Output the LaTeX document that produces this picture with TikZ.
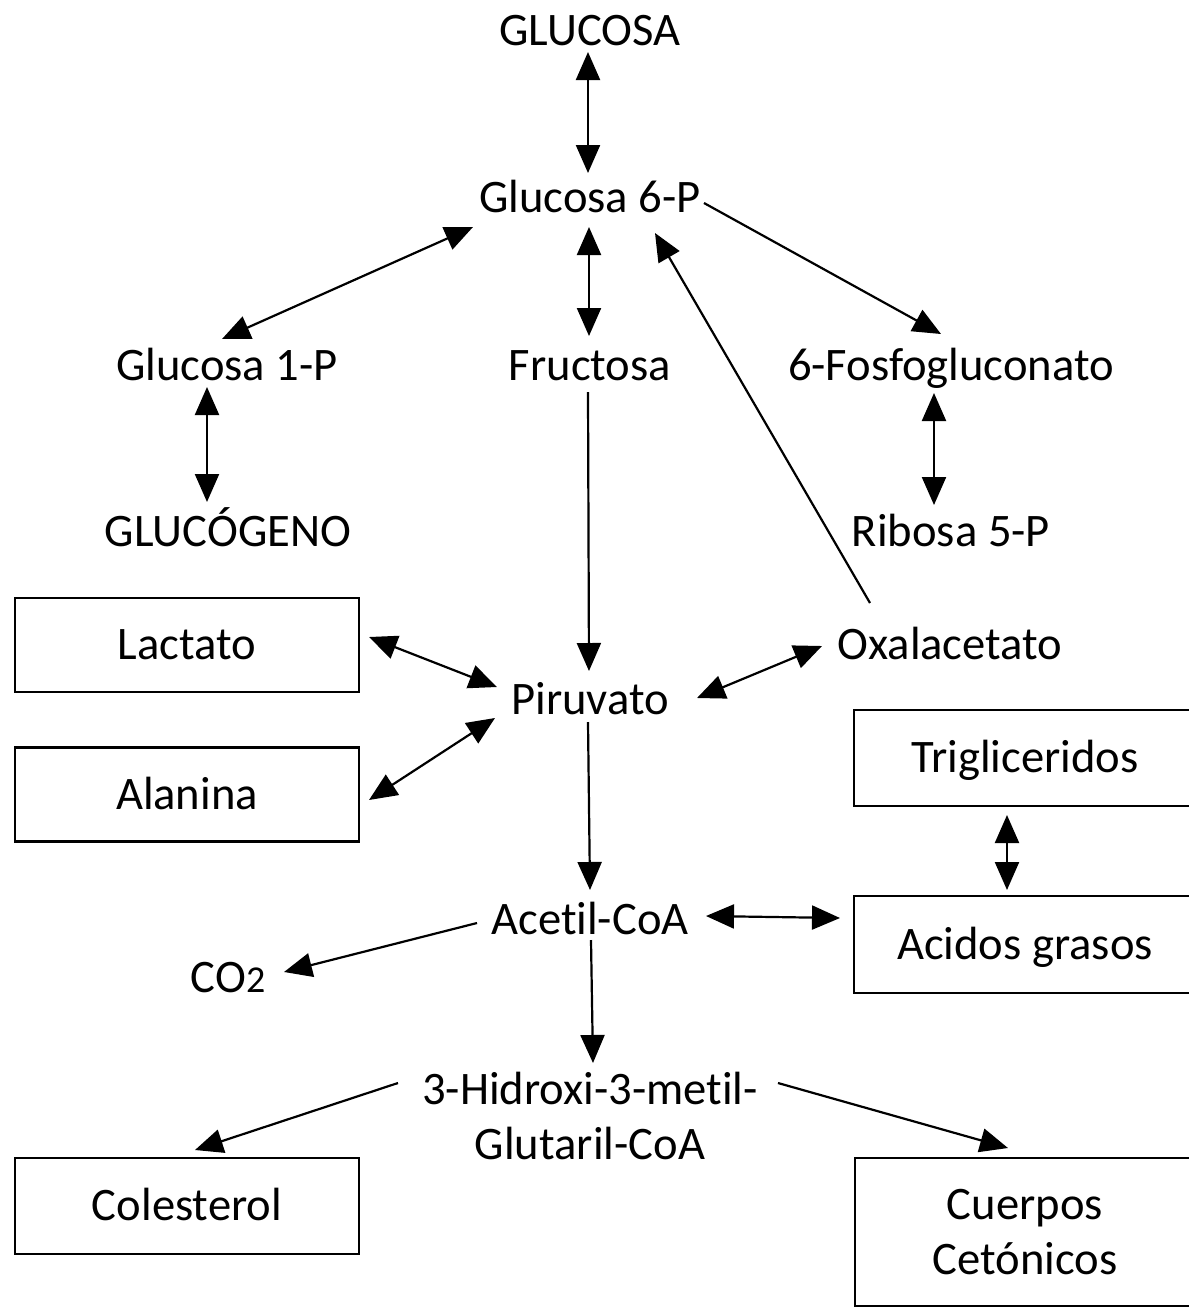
\documentclass[tikz,border=0pt]{standalone}
\usepackage{fontspec}
\setmainfont{Carlito}[Ligatures={NoCommon}]
\usetikzlibrary{arrows.meta,calc}
\begin{document}
\begin{tikzpicture}[x=0.5pt,y=-0.5pt,
  lbl/.style={font=\fontsize{23.3}{27.5}\selectfont, inner sep=0pt, text height=19pt, text depth=4.2pt},
  mlbl/.style={font=\fontsize{23.3}{27.5}\selectfont, inner sep=0pt, align=center},
  box/.style={draw, line width=1.1pt, inner sep=0pt, minimum width=172pt, minimum height=47pt,
    font=\fontsize{23.3}{27.5}\selectfont, text height=19pt, text depth=4.2pt},
  arr/.style={line width=1.1pt, -{Triangle[length=14pt,width=12pt]}},
  barr/.style={line width=1.1pt, {Triangle[length=14pt,width=12pt]}-{Triangle[length=14pt,width=12pt]}}]
\useasboundingbox (0,0) rectangle (1189,1308);
\clip (0,0) rectangle (1189,1308);
% text nodes
\node[lbl] (glucosa) at (590,31) {GLUCOSA};
\node[lbl] (g6p) at (590,198) {Glucosa 6-P};
\node[lbl] (g1p) at (227,366) {Glucosa 1-P};
\node[lbl] (fructosa) at (590,366) {Fructosa};
\node[lbl] (fosfo) at (951,366) {6-Fosfogluconato};
\node[lbl] (glucogeno) at (228,532) {GLUCÓGENO};
\node[lbl] (ribosa) at (951,532) {Ribosa 5-P};
\node[lbl] (oxal) at (950,645) {Oxalacetato};
\node[lbl] (piruvato) at (590,700) {Piruvato};
\node[lbl] (acetil) at (590,920) {Acetil-CoA};
\node[lbl] (co2) at (228,978) {CO{\fontsize{19}{20}\selectfont 2}};
\node[mlbl] (hmg) at (590,1116) {3-Hidroxi-3-metil-\\Glutaril-CoA};
% boxes
\node[box] (lactato) at (187,645) {Lactato};
\node[box] (alanina) at (187,794.5) {Alanina};
\node[box, minimum height=48pt] (colesterol) at (187,1206) {Colesterol};
\node[box, minimum width=171pt, minimum height=48pt] (trig) at (1025,758) {Trigliceridos};
\node[box, minimum width=171pt, minimum height=48.5pt] (acidos) at (1025,944.5) {Acidos grasos};
\node[box, minimum width=170pt, minimum height=74pt, align=center, text height=, text depth=] (cuerpos) at (1025,1232) {Cuerpos\\Cetónicos};
% connectors
\draw[barr] ($(glucosa)+(-2,21)$) -- ($(g6p)+(-2,-25)$);
\draw[barr] ($(g6p)+(-117,29)$) -- ($(g1p)+(-5,-27)$);
\draw[barr] ($(g6p)+(-1,29)$) -- ($(fructosa)+(-1,-30)$);
\draw[arr] ($(g6p)+(114,5)$) -- ($(fosfo)+(-10,-32)$);
\draw[arr] ($(oxal)+(-80,-42)$) -- ($(g6p)+(65,35)$);
\draw[barr] ($(g1p)+(-20,21)$) -- ($(glucogeno)+(-21,-30)$);
\draw[barr] ($(fosfo)+(-17,27)$) -- ($(ribosa)+(-17,-27)$);
\draw[arr] ($(fructosa)+(-2,26)$) -- ($(piruvato)+(-1,-29)$);
\draw[barr] ($(lactato)+(182,-8)$) -- ($(piruvato)+(-93,-13)$);
\draw[barr] ($(alanina)+(182,5.5)$) -- ($(piruvato)+(-95,18)$);
\draw[barr] ($(oxal)+(-128,1)$) -- ($(piruvato)+(107,-2)$);
\draw[arr] ($(piruvato)+(-2,22)$) -- ($(acetil)+(0,-30)$);
\draw[barr] ($(trig)+(-18,57)$) -- ($(acidos)+(-18,-54.5)$);
\draw[barr] ($(acetil)+(116,-4)$) -- ($(acidos)+(-185,-26.5)$);
\draw[arr] ($(acetil)+(-113,3)$) -- ($(co2)+(56,-6)$);
\draw[arr] ($(acetil)+(1,20)$) -- ($(hmg)+(3,-53)$);
\draw[arr] ($(hmg)+(-192,-33)$) -- ($(colesterol)+(8,-56)$);
\draw[arr] ($(hmg)+(188,-33)$) -- ($(cuerpos)+(-17,-84)$);
\end{tikzpicture}
\end{document}
